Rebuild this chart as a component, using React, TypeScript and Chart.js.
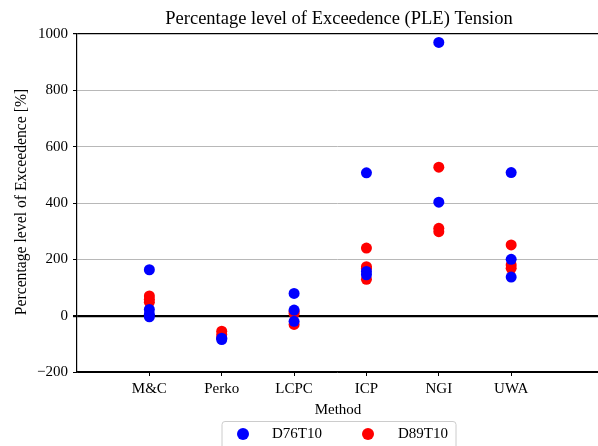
import React, { useEffect, useRef } from "react";
import { Chart, registerables } from "chart.js";

Chart.register(...registerables);

const categories = ["M&C", "Perko", "LCPC", "ICP", "NGI", "UWA"];
const yTicks = [-200, 0, 200, 400, 600, 800, 1000];

// D76T10 (blue) values per method
const d76MC = [163, 22, 5, -4];
const d76Perko = [-85, -80];
const d76LCPC = [79, 20, -20];
const d76ICP = [507, 157, 145];
const d76NGI = [970, 403];
const d76UWA = [508, 200, 137];

// D89T10 (red) values per method
const d89MC = [70, 58, 48];
const d89Perko = [-55, -67, -78];
const d89LCPC = [15, 8, -31];
const d89ICP = [240, 174, 168, 129];
const d89NGI = [527, 310, 298];
const d89UWA = [251, 180, 168];

const d76 = [d76MC, d76Perko, d76LCPC, d76ICP, d76NGI, d76UWA];
const d89 = [d89MC, d89Perko, d89LCPC, d89ICP, d89NGI, d89UWA];

const toPoints = (groups: number[][]) =>
  groups.flatMap((vals, i) => vals.map((v) => ({ x: i, y: v })));

const FONT = "'Liberation Serif', 'Times New Roman', serif";

const overlay = {
  id: "overlay",
  afterDraw(chart: any) {
    const { ctx } = chart;
    ctx.save();
    ctx.fillStyle = "#000";
    ctx.textAlign = "center";
    ctx.textBaseline = "middle";
    ctx.font = `18.5px ${FONT}`;
    ctx.fillText("Percentage level of Exceedence (PLE) Tension", 339, 19);
    ctx.font = `15px ${FONT}`;
    ctx.fillText("Method", 338, 410);
    ctx.save();
    ctx.translate(22, 202);
    ctx.rotate(-Math.PI / 2);
    ctx.font = `15.7px ${FONT}`;
    ctx.fillText("Percentage level of Exceedence [%]", 0, 0);
    ctx.restore();

    // legend box
    const bx = 222, by = 421.5, bw = 234, bh = 40;
    ctx.beginPath();
    const r = 3;
    ctx.moveTo(bx + r, by);
    ctx.lineTo(bx + bw - r, by);
    ctx.quadraticCurveTo(bx + bw, by, bx + bw, by + r);
    ctx.lineTo(bx + bw, by + bh);
    ctx.lineTo(bx, by + bh);
    ctx.lineTo(bx, by + r);
    ctx.quadraticCurveTo(bx, by, bx + r, by);
    ctx.closePath();
    ctx.fillStyle = "rgba(255,255,255,0.8)";
    ctx.fill();
    ctx.strokeStyle = "#cccccc";
    ctx.lineWidth = 1;
    ctx.stroke();

    const items = [
      { color: "#0000ff", label: "D76T10", mx: 243, tx: 272 },
      { color: "#ff0000", label: "D89T10", mx: 368, tx: 398 },
    ];
    ctx.font = `15px ${FONT}`;
    ctx.textAlign = "left";
    for (const it of items) {
      ctx.beginPath();
      ctx.arc(it.mx, 434, 6, 0, Math.PI * 2);
      ctx.fillStyle = it.color;
      ctx.fill();
      ctx.fillStyle = "#000";
      ctx.fillText(it.label, it.tx, 434);
    }
    ctx.restore();
  },
};

export default function App() {
  const ref = useRef<HTMLCanvasElement>(null);
  useEffect(() => {
    if (!ref.current) return;
    const chart = new Chart(ref.current, {
      type: "scatter",
      data: {
        datasets: [
          {
            label: "D76T10",
            data: toPoints(d76),
            backgroundColor: "#0000ff",
            borderWidth: 0,
            pointRadius: 5.5,
          },
          {
            label: "D89T10",
            data: toPoints(d89),
            backgroundColor: "#ff0000",
            borderWidth: 0,
            pointRadius: 5.5,
          },
        ],
      },
      options: {
        responsive: false,
        animation: false,
        layout: { autoPadding: false, padding: { top: 34, left: 0, right: 0, bottom: 0 } },
        plugins: {
          legend: { display: false },
          title: { display: false },
          tooltip: { enabled: false },
        },
        scales: {
          x: {
            type: "linear",
            min: -1,
            max: 6.2,
            afterFit: (s: any) => {
              s.height = 74;
              s.paddingLeft = 0;
              s.paddingRight = 0;
            },
            afterBuildTicks: (s: any) => {
              s.ticks = categories.map((_, i) => ({ value: i }));
            },
            grid: {
              drawOnChartArea: false,
              drawTicks: true,
              tickLength: 4,
              tickColor: "#000",
            },
            border: { display: true, color: "#000", width: 1.2 },
            ticks: {
              autoSkip: false,
              maxRotation: 0,
              padding: 4,
              color: "#000",
              font: { family: FONT, size: 15 },
              callback: (v: any) => categories[v] ?? "",
            },
          },
          y: {
            type: "linear",
            min: -200,
            max: 1000,
            afterFit: (s: any) => {
              s.width = 77;
              s.paddingTop = 0;
              s.paddingBottom = 0;
            },
            afterBuildTicks: (s: any) => {
              s.ticks = yTicks.map((v) => ({ value: v }));
            },
            grid: {
              color: (c: any) => {
                const v = c.tick?.value;
                if (v === 0 || v === 1000 || v === -200) return "#000";
                return "#b8b8b8";
              },
              lineWidth: (c: any) => {
                const v = c.tick?.value;
                if (v === 0) return 2.2;
                if (v === 1000) return 1.2;
                return 1;
              },
              tickLength: 4,
              tickColor: "#000",
            },
            border: { display: true, color: "#000", width: 1.2 },
            ticks: {
              padding: 5,
              color: "#000",
              font: { family: FONT, size: 15 },
              callback: (v: any) => (v < 0 ? "\u2212" + Math.abs(v) : String(v)),
            },
          },
        },
      },
      plugins: [overlay],
    });
    return () => chart.destroy();
  }, []);
  return (
    <div style={{ position: "absolute", left: 0, top: 0, width: 598, height: 446, background: "#fff" }}>
      <canvas ref={ref} width={598} height={446} />
    </div>
  );
}
